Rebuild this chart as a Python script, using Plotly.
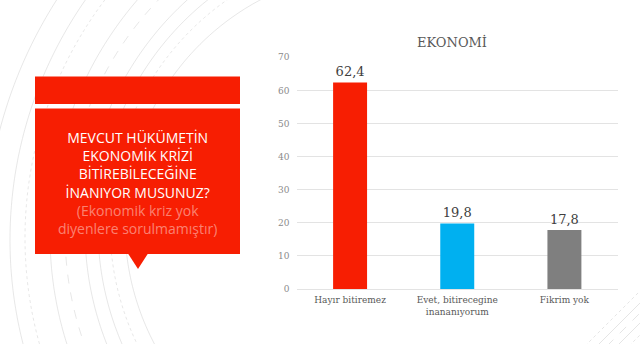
import numpy as np
import plotly.graph_objects as go

# --- data -------------------------------------------------------------
categories = ["Hayır bitiremez", "Evet, bitirecegine<br>inananıyorum", "Fikrim yok"]
values = [62.4, 19.8, 17.8]
bar_colors = ["#F71E02", "#00B0F0", "#7F7F7F"]
y_ticks = [0, 10, 20, 30, 40, 50, 60, 70]
chart_title = "EKONOMİ"
question_lines = ["MEVCUT HÜKÜMETİN", "EKONOMİK KRİZİ", "BİTİREBİLECEĞİNE", "İNANIYOR MUSUNUZ?"]
note_lines = ["(Ekonomik kriz yok", "diyenlere sorulmamıştır)"]

W, H = 640, 344
RED = "#F71E02"


def px(x):
    return x / W


def py(y):
    return 1 - y / H


fig = go.Figure()

fig.add_trace(go.Bar(
    x=categories,
    y=values,
    marker=dict(color=bar_colors, line=dict(width=0)),
    text=[f"{v:.1f}".replace(".", ",") for v in values],
    textposition="outside",
    textfont=dict(family="DejaVu Serif", size=13, color="#404040"),
    cliponaxis=False,
    hoverinfo="skip",
))

shapes = []

# faint decorative arcs on the left of the slide
def arc_path(cx, cy, r, y0=-5, y1=H + 5, n=80):
    ys = np.linspace(max(y0, cy - r + 1), min(y1, cy + r - 1), n)
    xs = cx - np.sqrt(np.maximum(r ** 2 - (ys - cy) ** 2, 0))
    pts = [f"{px(x):.5f},{py(y):.5f}" for x, y in zip(xs, ys)]
    return "M " + " L ".join(pts)


arc_specs = [
    (380, 225, 255, "solid"), (385, 225, 275, "dot"), (390, 228, 292, "solid"),
    (395, 230, 310, "solid"), (400, 232, 335, "dash"), (410, 235, 360, "solid"),
    (420, 238, 395, "dot"), (430, 240, 420, "solid"), (440, 245, 455, "solid"),
]
for cx, cy, r, dash in arc_specs:
    shapes.append(dict(type="path", xref="paper", yref="paper", path=arc_path(cx, cy, r),
                       line=dict(color="rgba(200,200,200,0.55)", width=0.8, dash=dash),
                       layer="below"))

# faint diagonal strokes in the lower right corner
for off, dash in [(0, "dot"), (12, "solid"), (22, "dash"), (32, "solid"), (44, "dot")]:
    x0, y0 = 585 + off, 346
    shapes.append(dict(type="line", xref="paper", yref="paper",
                       x0=px(x0), y0=py(y0), x1=px(x0 + 70), y1=py(y0 - 70),
                       line=dict(color="rgba(200,200,200,0.6)", width=0.8, dash=dash),
                       layer="below"))

# red title banner and question box with its pointer
shapes.append(dict(type="rect", xref="paper", yref="paper",
                   x0=px(35), x1=px(240), y0=py(104), y1=py(76.5),
                   fillcolor=RED, line=dict(width=0), layer="above"))
shapes.append(dict(type="rect", xref="paper", yref="paper",
                   x0=px(35), x1=px(240), y0=py(254), y1=py(108.5),
                   fillcolor=RED, line=dict(width=0), layer="above"))
shapes.append(dict(type="path", xref="paper", yref="paper",
                   path=f"M {px(128)},{py(253.5)} L {px(148)},{py(253.5)} L {px(138)},{py(269)} Z",
                   fillcolor=RED, line=dict(width=0), layer="above"))

question_text = "<br>".join(
    question_lines
    + [f"<span style='color:rgba(255,255,255,0.45)'>{t}</span>" for t in note_lines]
)
annotations = [dict(
    text=question_text, xref="paper", yref="paper", x=px(137.5), y=py(182.5),
    xanchor="center", yanchor="middle", align="center", showarrow=False,
    font=dict(family="Open Sans", size=14, color="#FFFFFF"),
)]

fig.update_layout(
    width=W, height=H,
    margin=dict(l=0, r=0, t=0, b=0, pad=0),
    paper_bgcolor="white",
    plot_bgcolor="white",
    showlegend=False,
    bargap=0.683,
    title=dict(text=chart_title, x=px(452), xanchor="center", y=py(42), yanchor="middle",
               font=dict(family="DejaVu Serif", size=13, color="#595959"),
               automargin=False),
    xaxis=dict(domain=[px(296.5), px(618)], showgrid=False, showline=False, ticks="",
               tickfont=dict(family="DejaVu Serif", size=9, color="#595959"),
               ticklabelstandoff=4, fixedrange=True, automargin=False),
    yaxis=dict(domain=[py(289), py(57.3)], range=[0, 70], tickvals=y_ticks,
               showgrid=True, gridcolor="#E3E3E3", gridwidth=1,
               zeroline=True, zerolinecolor="#E3E3E3", zerolinewidth=1,
               showline=False, ticks="",
               tickfont=dict(family="DejaVu Serif", size=9, color="#8A8A8A"),
               ticklabelstandoff=6, fixedrange=True, automargin=False),
    shapes=shapes,
    annotations=annotations,
)

fig.write_html("out.html")
